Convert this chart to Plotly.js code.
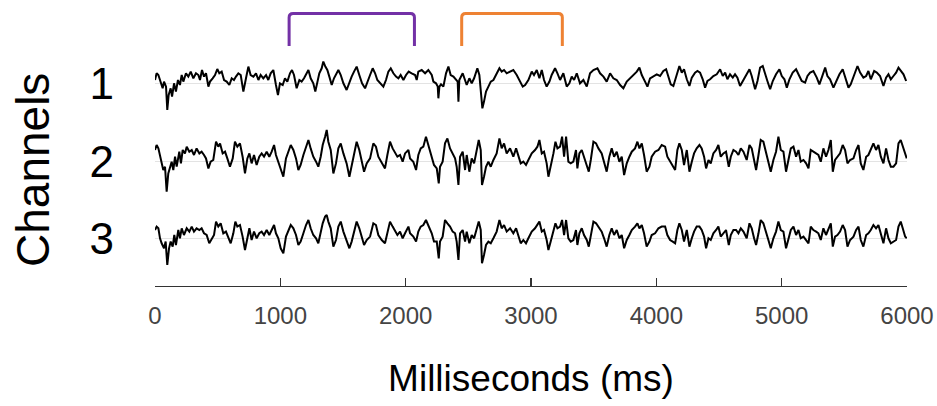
<!DOCTYPE html>
<html><head><meta charset="utf-8">
<script src="https://cdn.plot.ly/plotly-3.0.1.min.js"></script>
<style>html,body{margin:0;padding:0;background:#fff}#chart{width:937px;height:406px}</style>
</head><body><div id="chart"></div>
<script>
// ---------------- data ----------------
const channelNames = ['1', '2', '3'];
const xTickValues = [0, 1000, 2000, 3000, 4000, 5000, 6000];

const timeCh1 = [
0,13,27,45,61,72,88,98,109,125,
136,152,167,183,199,213,226,247,266,285,
306,327,346,359,375,391,407,426,439,460,
479,497,513,532,551,572,593,612,630,646,
665,684,705,726,745,763,785,806,825,843,
864,886,904,923,944,965,981,997,1019,1037,
1056,1077,1093,1109,1130,1152,1170,1189,1205,1224,
1242,1263,1279,1295,1311,1330,1343,1359,1375,1391,
1410,1428,1444,1463,1482,1503,1529,1551,1569,1588,
1609,1630,1652,1676,1694,1716,1737,1756,1774,1795,
1822,1843,1862,1881,1902,1923,1942,1960,1982,2003,
2024,
2048,2075,2088,2101,2128,2155,2181,2208,2221,2242,
2256,2261,2269,2282,2301,2322,2341,2359,2381,2402,
2415,2421,2428,2455,2474,2487,2508,2527,2546,2572,
2588,2601,2612,2625,2641,2660,2679,2700,2726,2748,
2766,2785,2806,2833,2859,2886,2913,2934,2953,2979,
3006,3024,3046,3067,3086,3104,3125,3147,3165,3192,
3211,3232,3258,3285,3306,3325,3344,3365,3391,3418,
3445,3471,3498,3530,3551,3578,3604,3631,3657,3684,
3711,3737,3764,3790,3817,3844,3865,3884,3910,3929,
3950,
3977,4003,4030,4056,4078,4096,4115,4136,4157,4184,
4203,4221,4243,4264,4283,4309,4328,4349,4370,4389,
4408,4429,4455,4482,4509,4530,4549,4567,4588,4610,
4628,4647,4668,4689,4716,4743,4761,4788,4807,4828,
4849,4868,4886,4908,4929,4955,4982,5001,5022,5041,
5062,5088,5115,5134,5160,5187,5206,5227,5253,5280,
5301,5320,5347,5365,5386,5413,5434,5461,5487,5506,
5533,5551,5578,5605,5626,5652,5674,5692,5711,5738,
5759,5785,5812,5833,5852,5871,5892,5913,5932,5950,
5972,5993
];
const valueCh1 = [
3.3,10,8.3,0,-5,1.7,-3.3,-26.7,-11.7,-5,
-13.3,0,-8.3,3.3,-1.7,8.3,1.7,10,6.7,11.7,
5,10,8.3,3.3,13.3,6.7,10,-3.3,1.7,5,
8.3,14.3,10,11.7,3.3,1.7,-1.7,5,3.3,6.7,
10,8.3,-8.3,5,16.7,8.3,6.7,10,3.3,8.3,
5,8.3,3.3,10,13.3,-1.7,-11.7,0,-1.7,5,
1.7,10,13.3,8.3,-5,3.3,1.7,5,8.3,13.3,
5,0,-8.3,1.7,10,15,21.7,16.7,13.3,6.7,
-1.7,5,8.3,13.3,8.3,0,-6.7,1.7,6.7,11.7,
16.7,8.3,0,-5,1.7,8.3,15,10,3.3,0,
-3.3,3.3,11.7,15,10,6.7,5,8.3,3.3,8.3,
11.7,
10,8.3,3.3,11.7,13.3,10,13.3,8.3,1.7,0,
-3.3,-15,-3.3,-1,-3.3,10,16.7,8.3,6.7,3.3,
1.7,-18.3,3.3,10,3.3,-1.7,5,0,5,15,
8.3,-8.3,-25,-18.3,-8.3,-3.3,1.7,3.3,10,15,
11.7,13.3,10,11.7,13.3,8.3,1.7,-3.3,-1.7,3.3,
11.7,8.3,13.3,5,13.3,3.3,-3.3,1.7,8.3,15,
10,3.3,10,-3.3,0,6.7,3.3,10,0,3.3,
-3.3,10,13.3,15,10,6.7,1.7,10,5,3.3,
-1.7,-5,1.7,5,8.3,11.7,15.7,8.3,1.7,-3.3,
5,
7.3,9,7.3,12.3,14,5.7,-1,-2.7,5.7,17.3,
10.7,14,4,-2.7,5.7,10.7,12.3,10.7,4,-4.3,
2.3,4,7.3,9,14,7.3,10.7,4,9,5.7,
9,5.7,-2.7,2.3,9,14,7.3,-6,2.3,15.7,
17.3,10.7,2.3,-6,2.3,9,14,7.3,4,-4.3,
4,10.7,14,9,2.3,0.7,7.3,10.7,12.3,5.7,
-1,5.7,15.7,7.3,4,-4.3,2.3,9,14,7.3,
-4.3,-1,9,17.3,10.7,5.7,7.3,12.3,4,12.3,
10.7,7.3,-2.7,5.7,9,4,7.3,10.7,15.7,12.3,
9,2.3
];

const timeCh2 = [
0,13,27,40,53,66,80,93,106,120,
133,146,160,173,194,207,221,239,253,274,
293,311,332,354,372,391,407,426,444,465,
487,505,519,540,559,577,598,620,638,657,
678,699,718,737,753,771,790,811,832,851,
870,891,912,931,950,965,984,1003,1024,1045,
1064,1083,1104,1125,1144,1162,1184,1205,1224,1242,
1263,1285,1303,1322,1338,1357,1370,1383,1402,1423,
1444,1463,1482,1503,1529,1551,1569,1588,1609,1630,
1649,1668,1689,1716,1742,1763,1782,1809,1835,1854,
1875,1896,1915,1934,1955,1976,1995,2022,
2035,2061,2083,2101,2120,2141,2162,2181,2208,2226,
2248,2264,2274,2295,2314,2333,2354,2375,2394,2407,
2421,2434,2455,2474,2487,2508,2527,2546,2567,2583,
2599,2609,2625,2641,2660,2679,2700,2726,2748,2766,
2785,2806,2833,2859,2881,2899,2918,2939,2960,2979,
3006,3032,3051,3067,3086,3104,3125,3139,3157,3179,
3195,3211,3232,3248,3264,3280,3298,3317,3338,3359,
3370,3386,3405,3423,3445,3461,3477,3498,3519,3538,
3564,3583,3604,3625,3644,3663,3684,3705,3724,3743,
3764,3785,3804,3830,3849,3865,3884,3902,3923,3945,
3963,
3990,4017,4043,4070,4088,4110,4131,4150,4168,4184,
4203,4221,4243,4264,4283,4301,4322,4344,4362,4381,
4397,4416,4434,4455,4477,4495,4514,4535,4556,4578,
4594,4615,4636,4655,4674,4695,4721,4743,4761,4780,
4796,4815,4833,4854,4876,4894,4913,4934,4955,4974,
4993,5014,5035,5054,5073,5094,5115,5134,5152,5174,
5195,5214,5232,5253,5275,5293,5312,5333,5354,5373,
5392,5408,5426,5445,5466,5487,5506,5525,5546,5573,
5594,5613,5631,5652,5674,5692,5711,5732,5753,5772,
5791,5812,5833,5852,5871,5892,5913,5932,5950,5966,
5985,5998
];
const valueCh2 = [
11.7,16.7,13.3,5,-1.7,-8.3,-5,-30,-11.7,-6.7,
0,-8.3,5,-5,10,-1.7,11.7,8.3,15,10,
11.7,6.7,13.3,8.3,10,6.7,3.3,-6.7,0,1.7,
20,15,18.3,8.3,10,3.3,-5,3.3,20,15,
18.3,5,-11.7,3.3,8.3,-1.7,6.7,-3.3,5,8.3,
5,10,5,10,16.7,6.7,0,-8.3,-15,3.3,
10,16.7,11.7,3.3,-8.3,-3.3,6.7,15,21.7,13.3,
5,0,-5,5,16.7,25,31.7,20,11.7,-11.7,
-1.7,13.3,18.3,8.3,-1.7,-15,-5,5,20,11.7,
1.7,-10,-1.7,3.3,18.3,15,5,-1.7,-6.7,6.7,
20,13.3,8.3,5,6.7,0,8.3,11.7,
3.3,0,-8.3,6.7,13.3,15,25,16.7,6.7,-3.3,
-6.7,-21.7,-5,0,18.3,23.3,13.3,8.3,3.3,-5,
-23.3,5,10,-8.3,6.7,-10,3.3,-1.7,11.7,21.7,
11.7,-23.3,-15,-5,0,-5,1.7,8.3,23.3,13.3,
18.3,8.3,13.3,5,13.3,6.7,-1.7,0,-3.3,1.7,
8.3,11.7,15,21.7,8.3,10,-1.7,-15,-5,8.3,
20,13.3,15,25,5,25,0,-1.7,0,11.7,
-6.7,8.3,11.7,5,-1.7,-10,1.7,20,18.3,13.3,
8.3,0,-10,5,13.3,5,10,0,5,-13.3,
-1.7,5,10,13.3,20,13.3,18.3,6.7,-10,-5,
5,
10,11.7,16.7,15,5,0,-3.3,-8.3,11.7,18.3,
11.7,-3.3,11.7,-10,0,8.3,13.3,16.7,13.3,5,
-6.7,1.7,-1.7,8.3,11.7,16.7,5,8.3,10,-5,
5,11.7,10,6.7,13.3,10,1.7,16.7,13.3,0,
-8.3,6.7,21.7,20,8.3,-1.7,-10,1.7,10,25,
11.7,10,-10,1.7,13.3,15,5,11.7,0,1.7,
-1.7,-6.7,11.7,10,8.3,6.7,0,13.3,5,11.7,
21.7,-10,1.7,5,8.3,16.7,11.7,-1.7,1.7,3.3,
11.7,16.7,-1.7,-8.3,5,6.7,11.7,18.3,11.7,16.7,
5,-1.7,13.3,1.7,-5,-5,-1.7,18.3,21.7,15,
6.7,3.3
];

const timeCh3 = [
0,13,27,40,53,72,85,98,112,125,
141,154,167,186,199,213,231,253,274,293,
311,332,354,372,391,412,433,452,471,487,
505,524,545,566,585,604,625,641,657,678,
699,718,737,753,771,790,811,832,851,870,
891,912,931,950,965,984,1003,1024,1045,1064,
1083,1104,1125,1144,1162,1184,1205,1224,1242,1263,
1285,1303,1322,1338,1357,1370,1383,1402,1423,1444,
1463,1482,1503,1529,1551,1569,1588,1609,1630,1649,
1668,1689,1716,1742,1763,1782,1809,1835,1854,1875,
1896,1915,1934,1955,1976,1995,2022,
2035,2061,2083,2101,2120,2141,2162,2181,2208,2226,
2248,2264,2274,2295,2314,2333,2354,2375,2394,2407,
2421,2434,2455,2474,2487,2508,2527,2546,2567,2583,
2599,2609,2625,2641,2660,2679,2700,2726,2748,2766,
2785,2806,2833,2859,2881,2899,2918,2939,2960,2979,
3006,3032,3051,3067,3086,3104,3125,3139,3157,3179,
3195,3211,3232,3248,3264,3280,3298,3317,3338,3359,
3370,3386,3405,3423,3445,3461,3477,3498,3519,3538,
3564,3583,3604,3625,3644,3663,3684,3705,3724,3743,
3764,3785,3804,3830,3849,3865,3884,3902,3923,3945,
3963,
3990,4017,4043,4070,4088,4110,4131,4150,4168,4184,
4203,4221,4243,4264,4283,4301,4322,4344,4362,4381,
4397,4416,4434,4455,4477,4495,4514,4535,4556,4578,
4594,4615,4636,4655,4674,4695,4721,4743,4761,4780,
4796,4815,4833,4854,4876,4894,4913,4934,4955,4974,
4993,5014,5035,5054,5073,5094,5115,5134,5152,5174,
5195,5214,5232,5253,5275,5293,5312,5333,5354,5373,
5392,5408,5426,5445,5466,5487,5506,5525,5546,5573,
5594,5613,5631,5652,5674,5692,5711,5732,5753,5772,
5791,5812,5833,5852,5871,5892,5913,5932,5950,5966,
5985,5998
];
const valueCh3 = [
8.3,11.7,10,0,-5,-10,-3.3,-26.7,-10,-3.3,
-8.3,3.3,-6.7,8.3,0,10,3.3,10,6.7,11.7,
6.7,10,8.3,10,5,3.3,-5,0,3.3,16.7,
11.7,15,5,6.7,0,-5,5,16.7,11.7,13.3,
1.7,-11.7,0,10,-1.7,6.7,0,5,6.7,3.3,
8.3,3.3,8.3,13.3,5,0,-10,-15,1.7,8.3,
13.3,10,3.3,-6.7,-3.3,5,13.3,18.3,10,3.3,
0,-5,5,15,21.7,23.3,16.7,10,-8.3,-1.7,
11.7,16.7,6.7,-1.7,-10,-3.3,5,16.7,10,1.7,
-6.7,-1.7,1.7,15,13.3,3.3,-1.7,-5,5,16.7,
11.7,6.7,3.3,6.7,0,5,11.7,
5,1.7,-3.3,6.7,11.7,13.3,18.3,13.3,5,-3.3,
-3.3,-20,-3.3,1.7,18.3,15,11.7,6.7,5,-3.3,
-21.7,5,8.3,-3.3,6.7,-5,3.3,0,10,16.7,
8.3,-25,-16.7,-6.7,-3.3,-5,0,6.7,18.3,10,
13.3,6.7,10,5,10,3.3,-5,-1.7,-5,0,
6.7,10,13.3,16.7,6.7,8.3,-1.7,-11.7,-3.3,6.7,
15,10,11.7,18.3,3.3,18.3,0,-3.3,-1.7,8.3,
-6.7,5,10,3.3,-1.7,-8.3,1.7,16.7,15,11.7,
6.7,0,-8.3,3.3,10,3.3,8.3,0,3.3,-10,
-1.7,3.3,8.3,11.7,15,10,13.3,5,-8.3,-3.3,
3.3,
5,10,11.7,11.7,3.3,-1.7,-3.3,-5,8.3,15,
8.3,-3.3,8.3,-8.3,0,6.7,11.7,11.7,8.3,1.7,
-10,0,-1.7,5,8.3,11.7,1.7,5,8.3,-6.7,
3.3,8.3,8.3,5,10,6.7,0,15,10,0,
-6.7,5,18.3,15,6.7,-1.7,-10,0,6.7,16.7,
8.3,6.7,-10,0,8.3,11.7,3.3,8.3,0,1.7,
-1.7,-5,11.7,8.3,6.7,5,-1.7,10,3.3,10,
15,-8.3,1.7,3.3,6.7,13.3,8.3,-8.3,-1.7,1.7,
8.3,11.7,-1.7,-8.3,3.3,5,8.3,13.3,10,13.3,
3.3,-5,10,0,-5,-3.3,-1.7,11.7,16.7,10,
1.7,0
];

// analysis windows (ms) drawn as brackets above the traces
const windowStart = [1070, 2447];
const windowEnd = [2070, 3250];
const windowColor = ['#7331A6', '#EE8233'];

// ---------------- layout constants ----------------
const channelBaselines = [202.7, 124.3, 47.7];   // vertical offsets of the stacked channels
const bracketBottom = 240, bracketTop = 272.5;
const msPerPx = 6000 / 752;
const cornerR = 4;

const times = [timeCh1, timeCh2, timeCh3];
const values = [valueCh1, valueCh2, valueCh3];

const traces = channelBaselines.map((b, i) => ({
  type: 'scatter', mode: 'lines',
  x: times[i], y: values[i].map(v => v + b),
  line: {color: '#000', width: 2},
  hoverinfo: 'skip', name: 'Channel ' + channelNames[i]
}));

const shapes = windowStart.map((s, i) => {
  const e = windowEnd[i], rx = cornerR * msPerPx, yb = bracketBottom, yt = bracketTop;
  return {
    type: 'path', xref: 'x', yref: 'y', layer: 'above',
    path: `M ${s},${yb} L ${s},${yt - cornerR} Q ${s},${yt} ${s + rx},${yt} L ${e - rx},${yt} Q ${e},${yt} ${e},${yt - cornerR} L ${e},${yb}`,
    line: {color: windowColor[i], width: 3},
    fillcolor: 'rgba(0,0,0,0)'
  };
});

const layout = {
  width: 937, height: 406,
  margin: {l: 155, r: 30, t: 5, b: 120},
  paper_bgcolor: '#fff', plot_bgcolor: '#fff',
  showlegend: false,
  font: {family: 'Liberation Sans, Arial, sans-serif', color: '#000'},
  xaxis: {
    range: [0, 6000], tickvals: xTickValues,
    ticks: 'inside', ticklen: 8, tickwidth: 1.3, tickcolor: '#333',
    showline: true, linecolor: '#333', linewidth: 1.3,
    showgrid: false, zeroline: false,
    tickfont: {family: 'Liberation Sans, Arial, sans-serif', size: 24, color: '#444'},
    ticklabelstandoff: 8,
    title: {text: 'Milliseconds (ms)', font: {size: 37, color: '#000'}, standoff: 37}
  },
  yaxis: {
    range: [0, 281], tickvals: channelBaselines, ticktext: channelNames,
    showgrid: true, gridcolor: '#e3e3e3', gridwidth: 1,
    zeroline: false, showline: false, ticks: '',
    tickfont: {size: 44, color: '#000'},
    ticklabelstandoff: 40
  },
  annotations: [{
    text: 'Channels', xref: 'paper', yref: 'paper',
    x: (33 - 155) / 752, y: (286 - 170) / 281,
    xanchor: 'center', yanchor: 'middle', textangle: -90,
    showarrow: false, font: {size: 46, color: '#000'}
  }],
  shapes: shapes
};

Plotly.newPlot('chart', traces, layout, {displayModeBar: false, staticPlot: true});
</script>
</body></html>
